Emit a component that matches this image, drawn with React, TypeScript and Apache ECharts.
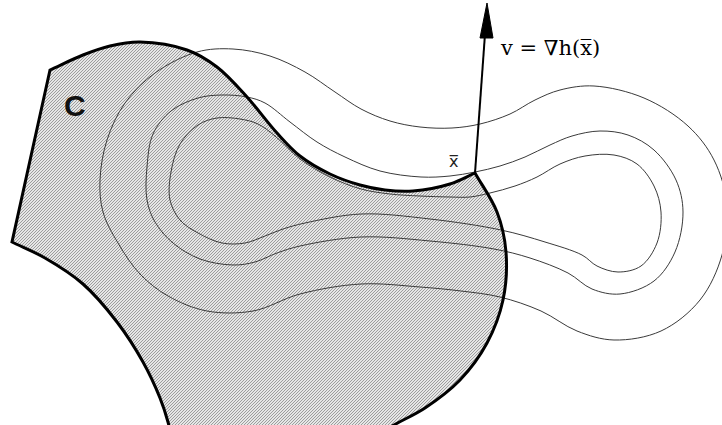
import React, { useEffect, useRef } from "react";
import * as echarts from "echarts";

// ---- diagram geometry (picture coordinates, x: 0..722, y: 0..425 downward) ----
const regionTop: number[][] = [
  [50, 70], [83, 55], [110, 46], [140, 42], [187, 50], [217, 67], [247, 97],
  [277, 133], [300, 156], [330, 174], [360, 185], [385, 190], [413, 191],
  [450, 184], [475, 173],
];
const regionRight: number[][] = [
  [475, 173], [497, 212], [506, 252], [503, 300], [487, 343], [460, 380],
  [425, 408], [394, 425], [370, 440],
];
const regionLeft: number[][] = [
  [172, 440], [168, 422], [160, 398], [143, 362], [117, 322], [83, 284],
  [45, 258], [12, 242],
];

const outerContour: number[][] = [
  [197, 52], [233, 49], [270, 56], [305, 72], [335, 92], [361, 109], [390, 121],
  [420, 127], [452, 128], [480, 124], [510, 114], [535, 100], [560, 90], [594, 86],
  [644, 98], [688, 126], [714, 160], [727, 205], [722, 255], [700, 300],
  [661, 331], [614, 340], [577, 331], [541, 311], [500, 297], [461, 291],
  [420, 287], [361, 284], [300, 294], [253, 311], [207, 311], [168, 296],
  [140, 274], [118, 243], [103, 212], [100, 180], [107, 140], [125, 103],
  [155, 73],
];
const middleContour: number[][] = [
  [147, 200], [147, 167], [153, 134], [171, 111], [198, 98], [222, 95],
  [247, 97], [265, 103], [290, 122], [317, 142], [345, 157], [380, 171],
  [421, 177], [450, 176], [475, 172], [500, 166], [525, 157], [550, 145],
  [572, 136], [600, 131], [628, 135], [654, 150], [676, 180], [683, 212],
  [675, 252], [654, 281], [620, 294], [592, 289], [568, 273], [530, 258],
  [494, 249], [430, 241], [361, 237], [300, 246], [277, 253], [255, 262],
  [233, 265], [200, 259], [173, 243], [155, 222],
];
const innerContour: number[][] = [
  [170, 200], [171, 172], [180, 144], [198, 125], [217, 118], [240, 119],
  [258, 124], [275, 136], [300, 159], [330, 177], [361, 189], [390, 194],
  [420, 196], [450, 197], [470, 197], [490, 193], [515, 186], [537, 177],
  [560, 164], [585, 156], [614, 155], [637, 164], [654, 186], [661, 212],
  [657, 243], [641, 266], [618, 272], [597, 266], [582, 255], [545, 242],
  [501, 230], [430, 219], [361, 214], [305, 223], [283, 229], [265, 236],
  [245, 243], [222, 243], [198, 233], [180, 220],
];
const arrowShaft: number[][] = [[475, 173], [485, 34]];
const arrowHead: number[][] = [[487, 3], [480, 38], [493, 38]];

// ---- helpers: centripetal Catmull-Rom -> cubic bezier ----
type Pt = number[];
function crSegments(p: Pt[], closed: boolean): string {
  const n = p.length;
  const get = (i: number) => {
    if (closed) return p[(i + n) % n];
    return p[Math.max(0, Math.min(n - 1, i))];
  };
  const dist = (a: Pt, b: Pt) => Math.pow(Math.hypot(a[0] - b[0], a[1] - b[1]), 0.5);
  let d = "";
  const segs = closed ? n : n - 1;
  for (let i = 0; i < segs; i++) {
    const p0 = get(i - 1), p1 = get(i), p2 = get(i + 1), p3 = get(i + 2);
    const d1 = dist(p0, p1), d2 = dist(p1, p2), d3 = dist(p2, p3);
    let c1: Pt, c2: Pt;
    if (d1 < 1e-6) {
      c1 = [p1[0] + (p2[0] - p1[0]) / 3, p1[1] + (p2[1] - p1[1]) / 3];
    } else {
      const a = d1 * d1, b = d2 * d2, k = 2 * a + 3 * d1 * d2 + b, m = 3 * d1 * (d1 + d2);
      c1 = [
        (a * p2[0] - b * p0[0] + k * p1[0]) / m,
        (a * p2[1] - b * p0[1] + k * p1[1]) / m,
      ];
    }
    if (d3 < 1e-6) {
      c2 = [p2[0] + (p1[0] - p2[0]) / 3, p2[1] + (p1[1] - p2[1]) / 3];
    } else {
      const a = d3 * d3, b = d2 * d2, k = 2 * a + 3 * d3 * d2 + b, m = 3 * d3 * (d3 + d2);
      c2 = [
        (a * p1[0] - b * p3[0] + k * p2[0]) / m,
        (a * p1[1] - b * p3[1] + k * p2[1]) / m,
      ];
    }
    d += ` C${c1[0].toFixed(2)},${c1[1].toFixed(2)} ${c2[0].toFixed(2)},${c2[1].toFixed(2)} ${p2[0].toFixed(2)},${p2[1].toFixed(2)}`;
  }
  return d;
}

function hatchImage(): string {
  const svg =
    `<svg xmlns="http://www.w3.org/2000/svg" width="3" height="3">` +
    `<rect width="3" height="3" fill="#e6e6e6"/>` +
    `<path d="M-1,1 L1,-1 M0,3 L3,0 M2,4 L4,2" stroke="#959595" stroke-width="0.9"/>` +
    `</svg>`;
  return "data:image/svg+xml;base64," + btoa(svg);
}

export default function App() {
  const ref = useRef<HTMLDivElement>(null);
  useEffect(() => {
    if (!ref.current) return;
    const chart = echarts.init(ref.current, undefined, { renderer: "svg" });
    const hatch = {
      image: hatchImage(),
      repeat: "repeat",
      imageWidth: 3,
      imageHeight: 3,
    } as any;

    const shapes = [
      { name: "regionFill", kind: "region" },
      { name: "outer", kind: "contour", pts: outerContour },
      { name: "middle", kind: "contour", pts: middleContour },
      { name: "inner", kind: "contour", pts: innerContour },
      { name: "regionEdge", kind: "regionEdge" },
      { name: "arrow", kind: "arrow" },
    ];

    const renderItem = (params: any, api: any) => {
      const s = shapes[params.dataIndex];
      const map = (arr: Pt[]) => arr.map((q) => api.coord(q));
      if (s.kind === "region" || s.kind === "regionEdge") {
        const top = map(regionTop);
        const right = map(regionRight);
        const left = map(regionLeft);
        let d = `M${top[0][0]},${top[0][1]}` + crSegments(top, false);
        d += crSegments(right, false);
        d += ` L${left[0][0]},${left[0][1]}` + crSegments(left, false);
        d += " Z";
        if (s.kind === "region") {
          return {
            type: "path",
            shape: { pathData: d },
            style: { fill: hatch, stroke: "none" },
          };
        }
        return {
          type: "path",
          shape: { pathData: d },
          style: { fill: "none", stroke: "#000", lineWidth: 3, lineJoin: "miter" },
        };
      }
      if (s.kind === "contour") {
        const p = map(s.pts as Pt[]);
        const d = `M${p[0][0]},${p[0][1]}` + crSegments(p, true) + " Z";
        return {
          type: "path",
          shape: { pathData: d },
          style: { fill: "none", stroke: "#3a3a3a", lineWidth: 1 },
        };
      }
      const sh = map(arrowShaft);
      const hd = map(arrowHead);
      return {
        type: "group",
        children: [
          {
            type: "line",
            shape: { x1: sh[0][0], y1: sh[0][1], x2: sh[1][0], y2: sh[1][1] },
            style: { stroke: "#000", lineWidth: 2 },
          },
          {
            type: "polygon",
            shape: { points: hd },
            style: { fill: "#000", stroke: "#000", lineWidth: 1 },
          },
        ],
      };
    };

    chart.setOption({
      animation: false,
      backgroundColor: "#fff",
      grid: { left: 0, right: 0, top: 0, bottom: 0 },
      xAxis: { type: "value", min: 0, max: 722, show: false },
      yAxis: { type: "value", min: 0, max: 425, inverse: true, show: false },
      series: [
        {
          type: "custom",
          renderItem,
          clip: false,
          silent: true,
          z: 2,
          data: shapes.map((_, i) => [i]),
        },
      ],
      graphic: [
        {
          type: "text",
          left: 64,
          top: 90,
          z: 100,
          style: {
            text: "C",
            font: "bold 30px 'Liberation Sans', Arial, sans-serif",
            fill: "#111",
          },
        },
        {
          type: "text",
          left: 449,
          top: 153,
          z: 100,
          style: {
            text: "x\u0305",
            font: "16px 'DejaVu Sans', sans-serif",
            fill: "#222",
          },
        },
        {
          type: "text",
          left: 501,
          top: 37,
          z: 100,
          style: {
            text: "v = \u2207h(x\u0305)",
            font: "21px 'DejaVu Serif', serif",
            fill: "#000",
          },
        },
      ],
    });
    return () => chart.dispose();
  }, []);
  return (
    <div
      ref={ref}
      style={{ position: "fixed", left: 0, top: 0, width: 722, height: 425 }}
    />
  );
}
